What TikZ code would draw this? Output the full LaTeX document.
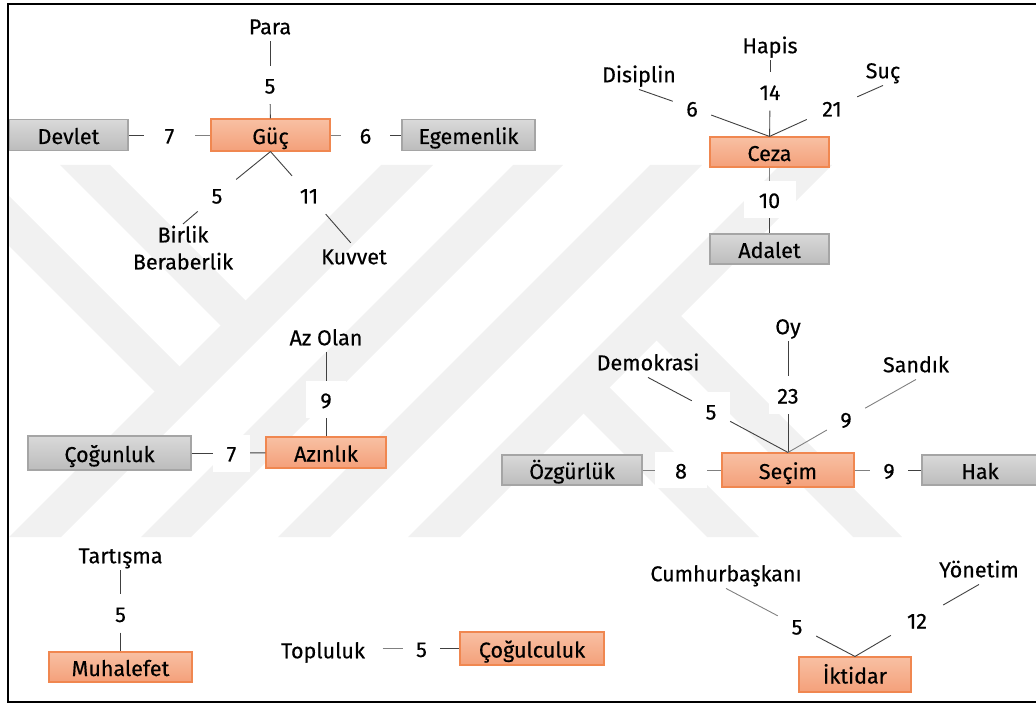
\documentclass[tikz,border=0pt]{standalone}
\usepackage{fontspec}
\setmainfont{Fira Sans}[FakeBold=0.4]
\newcommand\fs{\fontsize{21.5}{27}\selectfont}

\definecolor{wmgray}{RGB}{241,241,241}
\definecolor{otop}{RGB}{248,192,163}
\definecolor{obot}{RGB}{244,160,122}
\definecolor{oline}{RGB}{240,135,80}
\definecolor{gtop}{RGB}{217,217,217}
\definecolor{gbot}{RGB}{188,188,188}
\definecolor{gline}{RGB}{165,165,165}

\begin{document}
\begin{tikzpicture}[x=1pt,y=-1pt,
  wm/.style={fill=wmgray,draw=none},
  obox/.style={draw=oline,line width=1.1pt,top color=otop,bottom color=obot,
    inner sep=0pt,text height=20pt,text depth=2pt,font=\fs},
  gbox/.style={draw=gline,line width=1.1pt,top color=gtop,bottom color=gbot,
    inner sep=0pt,text height=20pt,text depth=2pt,font=\fs},
  word/.style={inner sep=1.5pt,text height=16pt,text depth=5.5pt,font=\fs},
  twoline/.style={inner sep=1.5pt,align=center,font=\fs},
  lbl/.style={fill=white,inner sep=0pt,minimum width=38pt,minimum height=38pt,
    text height=17pt,text depth=0pt,font=\fs},
  link/.style={draw=black!75,line width=0.9pt},
  glink/.style={draw=black!50,line width=0.9pt}]

\useasboundingbox (0,0) rectangle (1036,703);

% faint striped emblem in the background
\begin{scope}
  \clip (8,165) rectangle (1036,537);
  \fill[wm] (381,165) -- (433,165) -- (61,537) -- (9,537) -- cycle;
  \fill[wm] (513,165) -- (563,165) -- (191,537) -- (141,537) -- cycle;
  \fill[wm] (650,165) -- (702,165) -- (330,537) -- (278,537) -- cycle;
  \fill[wm] (780,165) -- (832,165) -- (460,537) -- (408,537) -- cycle;
  \fill[wm] (60,165) -- (110,165) -- (257.5,312.5) -- (232.5,337.5) -- cycle;
  \fill[wm] (-72,165) -- (-22,165) -- (191.5,378.5) -- (166.5,403.5) -- cycle;
  \fill[wm] (645.5,329.5) -- (670,305) -- (902,537) -- (853,537) -- cycle;
  \fill[wm] (572.5,402.5) -- (598.5,376.5) -- (759,537) -- (707,537) -- cycle;
\end{scope}

% ---------- Güç ----------
\node[obox,minimum width=119pt,minimum height=32pt] (guc) at (270.5,135) {Güç};
\node[gbox,minimum width=119pt,minimum height=31pt] (devlet) at (68.5,135) {Devlet};
\node[gbox,minimum width=133pt,minimum height=31pt] (egemen) at (468.5,135) {Egemenlik};
\node[word] (para) at (270,29) {Para};
\node[twoline,anchor=north] (birlik) at (183,224) {Birlik\\Beraberlik};
\node[word] (kuvvet) at (354,259) {Kuvvet};
\node[lbl] (lp) at (270,85) {5};
\node[lbl,minimum width=51pt] (ld) at (169.5,135) {7};
\node[lbl,minimum width=49pt] (le) at (365.5,135) {6};
\node[lbl] (lb) at (217,195) {5};
\node[lbl] (lk) at (309,195) {11};

\draw[link] (para) -- (lp);
\draw[link] (lp) -- (guc);
\draw[link] (devlet) -- (ld);
\draw[glink] (ld) -- (guc);
\draw[glink] (guc) -- (le);
\draw[link] (le) -- (egemen);
\draw[link] (guc.south) -- (lb);
\draw[link] (lb) -- (birlik.north);
\draw[link] (guc.south) -- (lk);
\draw[link,shorten >=5pt] (lk) -- (kuvvet.north);

% ---------- Ceza ----------
\node[obox,minimum width=119pt,minimum height=30pt] (ceza) at (769.5,152) {Ceza};
\node[gbox,minimum width=119pt,minimum height=30pt] (adalet) at (769.5,249) {Adalet};
\node[word] (hapis) at (770,48) {Hapis};
\node[word] (disiplin) at (639,77) {Disiplin};
\node[word] (suc) at (883,73) {Suç};
\node[lbl] (lh) at (770,91.5) {14};
\node[lbl] (ldi) at (692,108) {6};
\node[lbl,minimum width=50pt] (ls) at (832,108) {21};
\node[lbl,minimum width=52pt,minimum height=37pt] (la) at (769.5,199.5) {10};

\draw[link] (hapis) -- (lh);
\draw[link] (lh) -- (ceza);
\draw[link] (disiplin.south) -- (ldi);
\draw[link] (ldi) -- (ceza.north);
\draw[link] (suc.south) -- (ls);
\draw[link] (ls) -- (ceza.north);
\draw[glink] (ceza) -- (la);
\draw[link] (la) -- (adalet);

% ---------- Azınlık ----------
\node[obox,minimum width=120pt,minimum height=31pt] (azinlik) at (326,452.5) {Azınlık};
\node[gbox,minimum width=163pt,minimum height=34pt] (cogunluk) at (109.5,453) {Çoğunluk};
\node[word] (azolan) at (326,340) {Az Olan};
\node[lbl,minimum width=40pt,minimum height=37pt] (lz) at (326,399.5) {9};
\node[lbl,minimum width=37pt,minimum height=37pt] (lc) at (231.5,453) {7};

\draw[link] (azolan) -- (lz);
\draw[link] (lz) -- (azinlik);
\draw[link] (cogunluk) -- (lc);
\draw[link] (lc) -- (azinlik);

% ---------- Muhalefet ----------
\node[obox,minimum width=143pt,minimum height=30pt] (muhalefet) at (120.5,667) {Muhalefet};
\node[word] (tartisma) at (120.5,558) {Tartışma};
\node[lbl] (lt) at (120.5,613.5) {5};

\draw[link] (tartisma) -- (lt);
\draw[link] (lt) -- (muhalefet);

% ---------- Çoğulculuk ----------
\node[obox,minimum width=144pt,minimum height=33pt] (cogulculuk) at (532,648.5) {Çoğulculuk};
\node[word] (topluluk) at (323,653) {Topluluk};
\node[lbl,minimum width=37pt] (lto) at (421.5,648.5) {5};

\draw[glink,shorten <=16pt] (topluluk.east |- lto) -- (lto);
\draw[link] (lto) -- (cogulculuk);

% ---------- Seçim ----------
\node[obox,minimum width=132pt,minimum height=34pt] (secim) at (788,470) {Seçim};
\node[gbox,minimum width=140pt,minimum height=30pt] (ozgurluk) at (572,470) {Özgürlük};
\node[gbox,minimum width=116pt,minimum height=30pt] (hak) at (980,470) {Hak};
\node[word] (oy) at (788,329) {Oy};
\node[word] (demokrasi) at (648,365) {Demokrasi};
\node[word] (sandik) at (916,367) {Sandık};
\node[lbl] (loy) at (788,395) {23};
\node[lbl] (lde) at (711,411) {5};
\node[lbl] (lsa) at (846,419) {9};
\node[lbl,minimum width=52pt,minimum height=36pt] (loz) at (681,470) {8};
\node[lbl] (lha) at (889,470) {9};

\draw[link] (oy) -- (loy);
\draw[link] (loy) -- (secim);
\draw[link] (demokrasi.south) -- (lde);
\draw[link] (lde) -- (secim.north);
\draw[glink] (sandik.south) -- (lsa);
\draw[glink] (lsa) -- (secim.north);
\draw[glink] (ozgurluk) -- (loz);
\draw[glink] (loz) -- (secim);
\draw[glink] (secim) -- (lha);
\draw[link] (lha) -- (hak);

% ---------- İktidar ----------
\node[obox,minimum width=112pt,minimum height=35pt] (iktidar) at (855,674.5) {İktidar};
\node[word] (cumhur) at (726,576) {Cumhurbaşkanı};
\node[word] (yonetim) at (979,572) {Yönetim};
\node[lbl] (lcu) at (797,626) {5};
\node[lbl,minimum width=52pt] (lyo) at (917,620) {12};

\draw[glink] (cumhur.south) -- (lcu);
\draw[link] (lcu) -- (iktidar.north);
\draw[link] (yonetim.south) -- (lyo);
\draw[link] (lyo) -- (iktidar.north);

% outer frame
\draw[line width=2pt] (7.5,4.5) rectangle (1050,701.5);
\end{tikzpicture}
\end{document}
